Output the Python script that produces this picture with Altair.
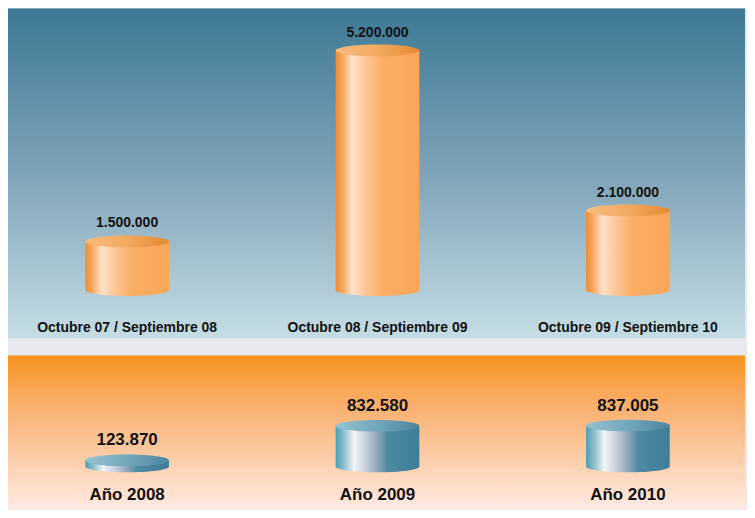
import altair as alt
import pandas as pd

# ---- data ----
top_categories = ["Octubre 07 / Septiembre 08", "Octubre 08 / Septiembre 09", "Octubre 09 / Septiembre 10"]
top_values = [1500000, 5200000, 2100000]

bottom_categories = ["Año 2008", "Año 2009", "Año 2010"]
bottom_values = [123870, 832580, 837005]


def es_fmt(v):
    return f"{v:,}".replace(",", ".")


top_df = pd.DataFrame({"cat": top_categories, "value": top_values,
                       "label": [es_fmt(v) for v in top_values]})
bot_df = pd.DataFrame({"cat": bottom_categories, "value": bottom_values,
                       "label": [es_fmt(v) for v in bottom_values]})

FONT = "Liberation Sans, Arial, sans-serif"
W = 739
TOP_H = 330
BOT_H = 154


def grad_h(stops):
    return alt.Gradient(gradient="linear", x1=0, x2=1, y1=0, y2=0,
                        stops=[alt.GradientStop(offset=o, color=c) for o, c in stops])


def grad_v(stops):
    return alt.Gradient(gradient="linear", x1=0, x2=0, y1=0, y2=1,
                        stops=[alt.GradientStop(offset=o, color=c) for o, c in stops])


def ellipse_path(ry):
    k = 0.5523
    return (f"M-1,0 C-1,{-ry*k:.4f} {-k:.4f},{-ry:.4f} 0,{-ry:.4f} "
            f"C{k:.4f},{-ry:.4f} 1,{-ry*k:.4f} 1,0 "
            f"C1,{ry*k:.4f} {k:.4f},{ry:.4f} 0,{ry:.4f} "
            f"C{-k:.4f},{ry:.4f} -1,{ry*k:.4f} -1,0 Z")


orange_body = grad_h([(0, "#EF8C33"), (0.08, "#F6A75E"), (0.2, "#FFE2CA"),
                      (0.36, "#FDC596"), (0.56, "#FBAE64"), (1, "#FAA658")])
orange_top = grad_h([(0, "#F8BD80"), (0.5, "#F3A961"), (1, "#E48A32")])
blue_body = grad_h([(0, "#4AA0B3"), (0.1, "#8FC0CC"), (0.22, "#F2F5F8"),
                    (0.36, "#C6CFDA"), (0.5, "#8EA7BA"), (0.62, "#4F8AA3"), (1, "#3F7D99")])
blue_top = grad_h([(0, "#95C3D1"), (0.5, "#72A6BB"), (1, "#4D86A0")])

top_bg = grad_v([(0, "#3D7995"), (0.5, "#7FA3B8"), (1, "#C5DDE4")])
bot_bg = grad_v([(0, "#F7931E"), (0.35, "#F9B272"), (1, "#FFEAE2")])


def panel(df, height, y_scale, body, cap, ry, tsize, vsize, vdy, offset, bg):
    x = alt.X("cat:N", sort=None,
              scale=alt.Scale(range=[0, 741], paddingInner=0.6657, paddingOuter=0.3085),
              axis=alt.Axis(title=None, domain=False, ticks=False, tickSize=0, grid=False,
                            labelAngle=0, labelPadding=0, offset=offset, zindex=1,
                            labelLimit=0,
                            labelBaseline="alphabetic", labelFont=FONT, labelFontSize=tsize,
                            labelFontWeight="bold", labelColor="#111111"))
    background = alt.Chart(df).mark_rect(fill=bg).encode(
        x=alt.value(0), x2=alt.value(W), y=alt.value(0), y2=alt.value(height))
    base = alt.Chart(df).encode(x=x)
    bottom_ell = base.mark_point(shape=ellipse_path(ry), size=84 * 84, filled=True,
                                 opacity=1, strokeWidth=0, fill=body).encode(
        y=alt.datum(0, scale=y_scale, axis=None))
    bar = base.mark_bar(fill=body).encode(
        y=alt.Y("value:Q", scale=y_scale, axis=None), y2=alt.datum(0))
    top_ell = base.mark_point(shape=ellipse_path(ry), size=84 * 84, filled=True,
                              opacity=1, strokeWidth=0, fill=cap).encode(
        y=alt.Y("value:Q", scale=y_scale, axis=None))
    txt = base.mark_text(font=FONT, fontSize=vsize, fontWeight="bold", color="#111111",
                         baseline="alphabetic", dy=vdy).encode(
        y=alt.Y("value:Q", scale=y_scale, axis=None), text="label:N")
    return alt.layer(background, bottom_ell, bar, top_ell, txt).properties(
        width=W, height=height)


top_scale = alt.Scale(domain=[560000, 5200000], range=[282, 42], clamp=True, zero=False)
bot_scale = alt.Scale(domain=[0, 837005], range=[111, 70], clamp=True)

top = panel(top_df, TOP_H, top_scale, orange_body, orange_top, 0.143, 14, 14, -14, -6, top_bg)
bot = panel(bot_df, BOT_H, bot_scale, blue_body, blue_top, 0.14, 17, 17, -15, -10, bot_bg)

chart = alt.vconcat(top, bot, spacing=18).resolve_scale(x="independent", y="independent").properties(
    background="#E6EAEE", padding=0
).configure_view(stroke=None)

chart.save("out.html", embed_options={"renderer": "svg", "actions": False})
